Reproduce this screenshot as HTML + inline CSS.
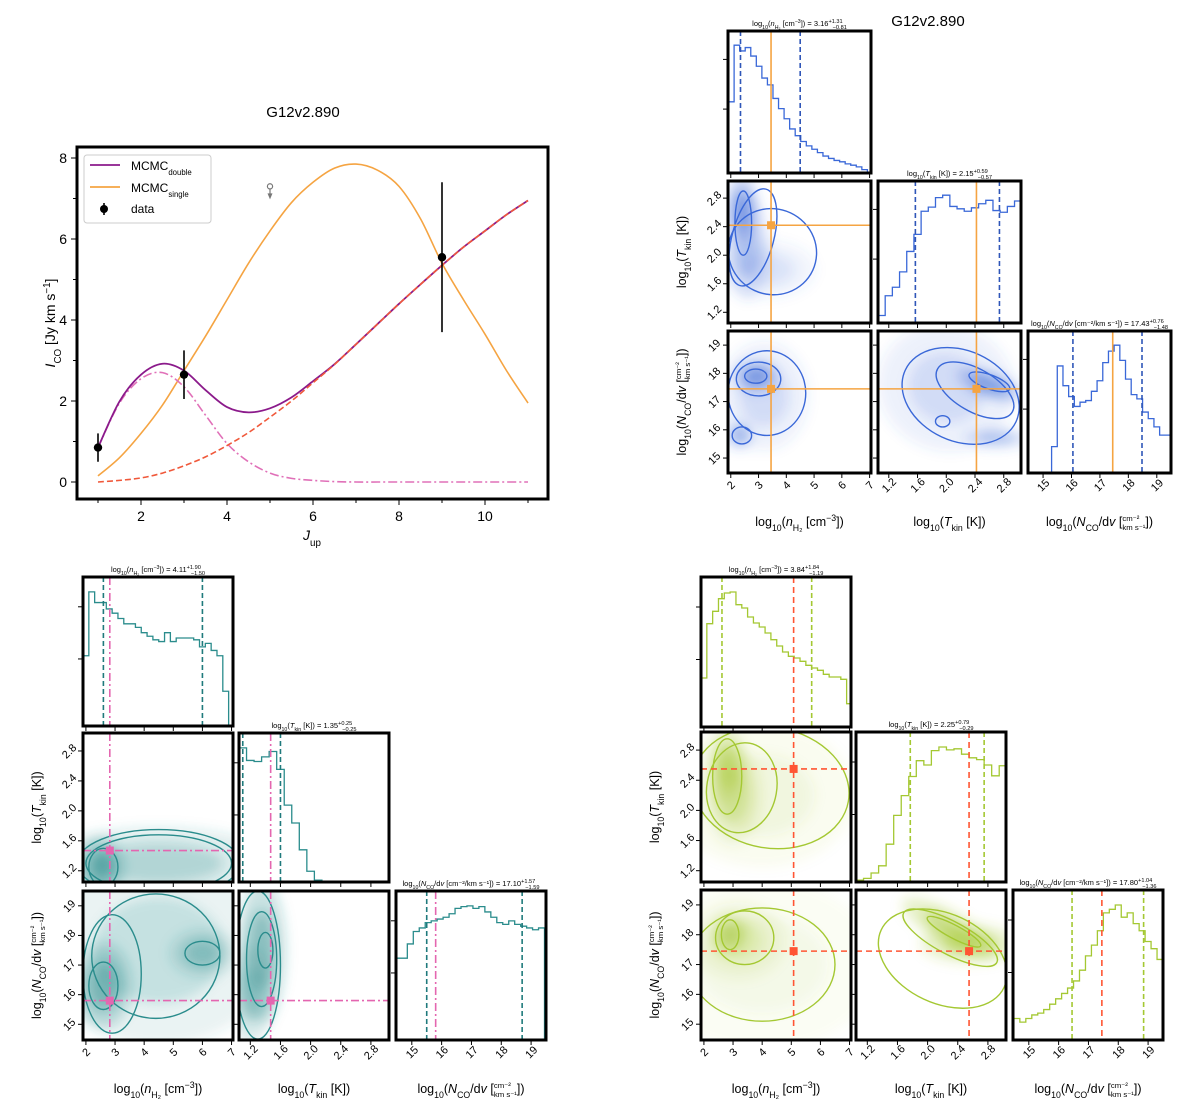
<!DOCTYPE html>
<html><head><meta charset="utf-8"><title>G12v2.890 CO SLED and MCMC corner plots</title>
<style>
html,body{margin:0;padding:0;background:#fff;}
svg{display:block;font-family:"Liberation Sans","DejaVu Sans",sans-serif;}
</style></head>
<body>
<svg id="fig" width="1200" height="1115" viewBox="0 0 1200 1115" xmlns="http://www.w3.org/2000/svg">
<defs>
<filter id="blur6" x="-50%" y="-50%" width="200%" height="200%"><feGaussianBlur stdDeviation="6"/></filter>
</defs>
</svg>
<script>
// ---------------- SLED data ----------------
const sledJ = [1,1.5,2,2.5,3,3.5,4,4.5,5,5.5,6,6.5,7,7.5,8,8.5,9,9.5,10,10.5,11];
const sledCold = [0.85,1.95,2.55,2.7,2.35,1.65,0.95,0.5,0.22,0.09,0.04,0.01,0,0,0,0,0,0,0,0,0];
const sledHot = [0,0.04,0.1,0.22,0.4,0.62,0.9,1.22,1.6,2.0,2.45,2.9,3.4,3.9,4.4,4.88,5.35,5.8,6.2,6.6,6.95];
const sledSingle = [0.15,0.6,1.2,1.9,2.75,3.6,4.5,5.4,6.2,6.9,7.4,7.75,7.85,7.7,7.3,6.5,5.4,4.5,3.65,2.75,1.95];
const dataJ = [1,3,9];
const dataI = [0.85,2.65,5.55];
const dataErr = [0.35,0.6,1.85];
const limitJ = [5];
const limitI = [7.3];
const sledXTicks = [2,4,6,8,10];
const sledYTicks = [0,2,4,6,8];

// ---------------- Corner data: top-right (single, blue) ----------------
const trHistN = [210,377,360,370,345,315,280,260,220,190,160,130,110,93,80,70,60,50,43,37,33,27,23,18,10];
const trHistT = [22,80,105,150,210,260,328,340,368,375,342,335,328,338,350,360,330,325,342,358,280];
const trHistC = [80,325,265,232,202,215,220,248,280,335,370,388,342,285,238,225,185,165,140,115,115];
const trQuant = [[2.35,4.5],[1.57,2.74],[16.05,18.48]];
const trBest = [3.45,2.42,17.45];
// blobs: [cx, cy, sx, sy, weight, rot]
const trBlobsNT = [[2.4,2.65,0.35,0.3,0.9,0],[2.6,2.1,0.5,0.45,0.5,0],[3.3,1.8,1.1,0.25,0.25,0]];
const trBlobsNC = [[2.9,17.9,0.5,0.35,0.9,0],[2.3,15.8,0.3,0.3,0.7,0],[3.2,17.2,1.0,1.2,0.3,0]];
const trBlobsTC = [[2.6,17.6,0.3,0.3,0.9,20],[2.7,15.7,0.3,0.2,0.6,0],[2.0,17.5,0.6,1.4,0.3,20]];
// contours: [cx, cy, rx, ry, rot]
const trContNT = [[2.45,2.45,0.3,0.45,0],[2.8,2.25,0.75,0.7,15],[3.5,2.05,1.6,0.6,25]];
const trContNC = [[2.9,17.9,0.4,0.25,0],[3.0,17.8,0.8,0.6,0],[3.3,17.3,1.4,1.5,0],[2.4,15.8,0.35,0.3,0]];
const trContTC = [[2.6,17.7,0.3,0.25,20],[2.4,17.4,0.6,0.75,30],[2.2,17.2,0.85,1.6,25],[1.95,16.3,0.1,0.2,0]];

// ---------------- Corner data: bottom-left (cold, teal) ----------------
const blHistN = [198,378,348,348,330,318,303,288,288,278,263,253,243,238,263,238,248,248,248,243,223,233,213,198,98];
const blHistT = [375,340,337,350,365,315,215,165,90,30,5];
const blHistC = [230,230,270,305,315,330,335,340,345,355,370,375,377,370,375,360,345,330,325,335,325,320,315,310,315];
const blQuant = [[2.6,6.0],[1.1,1.6],[15.5,18.7]];
const blBest = [2.82,1.47,15.8];
const blBlobsNT = [[2.5,1.25,0.5,0.25,1.0,0],[4.5,1.3,2.5,0.3,0.5,0]];
const blBlobsNC = [[2.6,16.3,0.6,0.9,0.9,0],[6.0,17.4,0.7,0.5,0.6,0],[4.5,17.5,2.5,2.0,0.35,0]];
const blBlobsTC = [[1.35,17.5,0.2,1.5,0.8,0],[1.2,16.0,0.2,1.0,0.6,0]];
const blContNT = [[2.6,1.25,0.5,0.25,0],[4.5,1.3,2.5,0.38,0],[4.5,1.3,2.8,0.45,0]];
const blContNC = [[2.6,16.3,0.5,0.8,0],[6.0,17.4,0.6,0.4,0],[2.9,16.7,1.0,2.0,0],[4.4,17.3,2.2,2.1,0]];
const blContTC = [[1.4,17.5,0.1,0.6,0],[1.35,17.2,0.2,1.6,0],[1.3,17.0,0.3,2.5,0]];

// ---------------- Corner data: bottom-right (warm, green) ----------------
const brHistN = [147,310,347,385,402,405,367,357,330,312,300,282,262,243,225,212,207,197,185,177,170,158,150,150,143,70];
const brHistT = [5,10,25,45,105,185,240,293,337,325,365,375,367,370,355,345,340,325,295,323,225];
const brHistC = [60,50,60,70,75,85,100,115,130,145,165,195,235,265,305,355,365,377,343,355,325,305,275,255,225];
const brQuant = [[2.62,5.7],[1.77,2.75],[16.45,18.85]];
const brBest = [5.08,2.55,17.45];
const brBlobsNT = [[2.8,2.6,0.4,0.3,0.9,0],[3.0,2.2,0.6,0.4,0.6,0],[4.0,2.2,2.0,0.6,0.2,0]];
const brBlobsNC = [[2.9,18.0,0.4,0.4,0.9,0],[3.2,17.8,1.0,0.8,0.4,0],[4.0,17.0,2.5,1.8,0.15,0]];
const brBlobsTC = [[2.3,18.2,0.45,0.35,0.9,30],[2.55,17.7,0.4,0.4,0.8,0]];
const brContNT = [[2.8,2.45,0.5,0.5,0],[3.3,2.3,1.2,0.6,10],[4.3,2.3,2.7,0.8,10]];
const brContNC = [[2.9,18.0,0.3,0.5,0],[3.4,17.9,1.0,0.9,0],[4.0,17.0,2.5,1.9,0]];
const brContTC = [[2.35,18.1,0.4,0.22,28],[2.3,17.9,0.7,0.55,28],[2.2,17.2,0.9,1.5,25]];

const nTicks = [2,3,4,5,6,7];
const tTicks = [1.2,1.6,2.0,2.4,2.8];
const cTicks = [15,16,17,18,19];

// ---------------- helpers ----------------
const NS = "http://www.w3.org/2000/svg";
const svg = document.getElementById('fig');
function mk(tag, attrs, parent){
  const e = document.createElementNS(NS, tag);
  for (const k in attrs) e.setAttribute(k, attrs[k]);
  (parent||svg).appendChild(e);
  return e;
}
function lin(d0,d1,r0,r1){ return v => r0 + (v-d0)/(d1-d0)*(r1-r0); }
function crPath(xs, ys){
  let d = 'M'+xs[0].toFixed(2)+','+ys[0].toFixed(2);
  for (let i=0;i<xs.length-1;i++){
    const x0=xs[Math.max(i-1,0)], y0=ys[Math.max(i-1,0)];
    const x1=xs[i], y1=ys[i], x2=xs[i+1], y2=ys[i+1];
    const x3=xs[Math.min(i+2,xs.length-1)], y3=ys[Math.min(i+2,xs.length-1)];
    const c1x=x1+(x2-x0)/6, c1y=y1+(y2-y0)/6, c2x=x2-(x3-x1)/6, c2y=y2-(y3-y1)/6;
    d += ' C'+c1x.toFixed(2)+','+c1y.toFixed(2)+' '+c2x.toFixed(2)+','+c2y.toFixed(2)+' '+x2.toFixed(2)+','+y2.toFixed(2);
  }
  return d;
}
const SUB = t => '<tspan baseline-shift="sub" font-size="70%">'+t+'</tspan>';
const SUP = t => '<tspan baseline-shift="super" font-size="70%">'+t+'</tspan>';
const IT = t => '<tspan font-style="italic">'+t+'</tspan>';

// ---------------- SLED plot ----------------
(function(){
  const L=77,R=548,T=147,B=499;
  const X = lin(1,11,98,528);
  const Y = lin(0,8,482,158);
  const g = mk('g',{});
  
  
  const title = mk('text',{x:303,y:117,'text-anchor':'middle','font-size':15,fill:'#000'},g);
  title.textContent='G12v2.890';
  
  

  const cold = sledCold, hot = sledHot;
  const dbl = sledJ.map((j,i)=>cold[i]+hot[i]);
  const xs = sledJ.map(X);
  const pSingle = mk('path',{d:crPath(xs,sledSingle.map(Y)),fill:'none',stroke:'#f5a442','stroke-width':1.6},g);
  
  
  const pCold = mk('path',{d:crPath(xs,cold.map(Y)),fill:'none',stroke:'#e070b8','stroke-width':1.6,'stroke-dasharray':'9,3,2,3'},g);
  
  
  const pDbl = mk('path',{d:crPath(xs,dbl.map(Y)),fill:'none',stroke:'#8b1a8b','stroke-width':1.8},g);
  
  
  const pHot = mk('path',{d:crPath(xs,hot.map(Y)),fill:'none',stroke:'#f0583a','stroke-width':1.6,'stroke-dasharray':'6,3'},g);
  
  

  dataJ.forEach((j,i)=>{
    const eb = mk('line',{x1:X(j),x2:X(j),y1:Y(dataI[i]-dataErr[i]),y2:Y(dataI[i]+dataErr[i]),stroke:'#000','stroke-width':1.6},g);
    
    
    const c = mk('circle',{cx:X(j),cy:Y(dataI[i]),r:4.2,fill:'#000'},g);
    
    
  });
  limitJ.forEach((j,i)=>{
    const x=X(j), y=Y(limitI[i]);
    const lg = mk('g',{},g);
    
    
    mk('circle',{cx:x,cy:y,r:2.6,fill:'none',stroke:'#777','stroke-width':1.2},lg);
    mk('line',{x1:x,x2:x,y1:y+2,y2:y+10,stroke:'#777','stroke-width':1.2},lg);
    mk('path',{d:`M${x-2.5},${y+7} L${x+2.5},${y+7} L${x},${y+13} Z`,fill:'#777'},lg);
  });

  const fr = mk('rect',{x:L,y:T,width:R-L,height:B-T,fill:'none',stroke:'#000','stroke-width':3},g);
  
  
  for (let j=1;j<=11;j++){
    const major = sledXTicks.includes(j);
    mk('line',{x1:X(j),x2:X(j),y1:B,y2:B+(major?6:4),stroke:'#000','stroke-width':1},g);
  }
  sledXTicks.forEach(v=>{
    const t = mk('text',{x:X(v),y:B+22,'text-anchor':'middle','font-size':14},g);
    t.textContent = v;
    
    
  });
  for (let v=0; v<=8; v++){
    const major = sledYTicks.includes(v);
    mk('line',{x1:L,x2:L-(major?6:4),y1:Y(v),y2:Y(v),stroke:'#000','stroke-width':1},g);
  }
  sledYTicks.forEach(v=>{
    const t = mk('text',{x:L-10,y:Y(v)+5,'text-anchor':'end','font-size':14},g);
    t.textContent = v;
    
    
  });
  const xl = mk('text',{x:312,y:540,'text-anchor':'middle','font-size':14},g);
  xl.innerHTML = IT('J')+SUB('up');
  
  
  const yl = mk('text',{x:0,y:0,'text-anchor':'middle','font-size':14,transform:'translate(55,323) rotate(-90)'},g);
  yl.innerHTML = IT('I')+SUB('CO')+' [Jy km s'+SUP('−1')+']';
  
  

  const lg = mk('g',{},g);
  
  
  mk('rect',{x:84,y:155,width:127,height:68,rx:3,fill:'#fff',stroke:'#ccc','stroke-width':1},lg);
  const items = [['#8b1a8b','MCMC','double'],['#f5a442','MCMC','single']];
  items.forEach((it,i)=>{
    const yy = 165+i*22;
    const e = mk('g',{},lg);
    
    
    mk('line',{x1:90,x2:120,y1:yy,y2:yy,stroke:it[0],'stroke-width':1.8},e);
    const t = mk('text',{x:131,y:yy+5,'font-size':12},e);
    t.innerHTML = it[1]+'<tspan baseline-shift="sub" font-size="65%">'+it[2]+'</tspan>';
  });
  const e3 = mk('g',{},lg);
  
  
  mk('line',{x1:104,x2:104,y1:203,y2:215,stroke:'#000','stroke-width':1.6},e3);
  mk('circle',{cx:104,cy:209,r:4,fill:'#000'},e3);
  const t3 = mk('text',{x:131,y:213,'font-size':12},e3);
  t3.textContent='data';
})();

// ---------------- corner plot builder ----------------
const NLAB = 'log'+SUB('10')+'('+IT('n')+SUB('H₂')+' [cm'+SUP('−3')+'])';
const TLAB = 'log'+SUB('10')+'('+IT('T')+SUB('kin')+' [K])';
function cLab(parent, x, y, fs, transform){
  const t = mk('text',{x:x,y:y,'text-anchor':'middle','font-size':fs,transform:transform||''},parent);
  t.innerHTML = 'log'+SUB('10')+'('+IT('N')+SUB('CO')+'/d'+IT('v')+' ['+
   '<tspan font-size="62%" dy="-5">cm⁻²</tspan><tspan font-size="62%" dx="-17" dy="9">km s⁻¹</tspan><tspan dy="-4">])</tspan>';
  return t;
}

function corner(C){
  const g = mk('g',{});
  
  
  const dN=[1.9,7.05], dT=[1.05,3.04], dC=[14.47,19.5];
  const doms=[dN,dT,dC], ticks=[nTicks,tTicks,cTicks];
  const xsc = i => lin(doms[i][0],doms[i][1],C.cols[i],C.cols[i]+C.w);
  const ysc = i => lin(doms[i][0],doms[i][1],C.rows[i]+C.h,C.rows[i]);
  const hists=[C.hN,C.hT,C.hC], starts=[C.sN,C.sT,C.sC], widths=[0.2,0.1,0.2];
  const clipId = n => C.id+'clip'+n;

  function clip(n,x,y){
    const cp = mk('clipPath',{id:clipId(n)},g);
    mk('rect',{x:x,y:y,width:C.w,height:C.h},cp);
  }
  function frame(x,y,name){
    const r = mk('rect',{x:x,y:y,width:C.w,height:C.h,fill:'none',stroke:'#000','stroke-width':3},g);
    
    
  }
  function vline(pg,x,y0,y1,col,dash,w){ mk('line',{x1:x,x2:x,y1:y0,y2:y1,stroke:col,'stroke-width':w||1.4,'stroke-dasharray':dash||''},pg); }
  function hline(pg,y,x0,x1,col,dash,w){ mk('line',{x1:x0,x2:x1,y1:y,y2:y,stroke:col,'stroke-width':w||1.4,'stroke-dasharray':dash||''},pg); }

  for (let i=0;i<3;i++){
    const x0=C.cols[i], y0=C.rows[i];
    clip('h'+i,x0,y0);
    const pg = mk('g',{'clip-path':'url(#'+clipId('h'+i)+')'},g);
    
    
    const X = xsc(i);
    const vals = hists[i];
    const vmax = Math.max(...vals)/0.9;
    const Y = lin(0,vmax,y0+C.h,y0);
    let d='M'+X(starts[i])+','+(y0+C.h+2);
    vals.forEach((v,k)=>{
      const a=X(starts[i]+k*widths[i]), b=X(starts[i]+(k+1)*widths[i]);
      d+=' L'+a.toFixed(2)+','+Y(v).toFixed(2)+' L'+b.toFixed(2)+','+Y(v).toFixed(2);
    });
    d+=' L'+X(starts[i]+vals.length*widths[i]).toFixed(2)+','+(y0+C.h+2);
    const hp = mk('path',{d:d,fill:'none',stroke:C.col,'stroke-width':1.3},pg);
    
    
    vline(pg,X(C.q[i][0]),y0,y0+C.h,C.qcol,'5,3',1.6);
    vline(pg,X(C.q[i][1]),y0,y0+C.h,C.qcol,'5,3',1.6);
    vline(pg,X(C.best[i]),y0,y0+C.h,C.bcol,C.bdash,1.6);
    ticks[i].forEach(v=>mk('line',{x1:X(v),x2:X(v),y1:y0+C.h,y2:y0+C.h+5,stroke:'#000','stroke-width':1},g));
    [0.2,0.55].forEach(f=>mk('line',{x1:x0,x2:x0-5,y1:y0+C.h*f,y2:y0+C.h*f,stroke:'#000','stroke-width':1},g));
    frame(x0,y0,'histogram-frame');
    const tt = mk('text',{x:x0+C.w/2,y:y0-5,'text-anchor':'middle','font-size':7.5},g);
    tt.innerHTML = C.titles[i];
    
    
  }
  const pairs=[[0,1,C.bNT,C.cNT],[0,2,C.bNC,C.cNC],[1,2,C.bTC,C.cTC]];
  pairs.forEach((p,k)=>{
    const xi=p[0], yi=p[1];
    const x0=C.cols[xi], y0=C.rows[yi];
    clip('d'+k,x0,y0);
    const pg = mk('g',{'clip-path':'url(#'+clipId('d'+k)+')'},g);
    
    
    const X=xsc(xi), Y=ysc(yi);
    const kx = C.w/(doms[xi][1]-doms[xi][0]), ky = C.h/(doms[yi][1]-doms[yi][0]);
    const bg = mk('g',{filter:'url(#blur6)'},pg);
    p[2].forEach(b=>{
      const e = mk('ellipse',{cx:X(b[0]),cy:Y(b[1]),rx:b[2]*kx*1.6,ry:b[3]*ky*1.6,fill:C.col,'fill-opacity':b[4]*0.3,transform:`rotate(${b[5]} ${X(b[0])} ${Y(b[1])})`},bg);
      
      
      const e2 = mk('ellipse',{cx:X(b[0]),cy:Y(b[1]),rx:b[2]*kx*0.9,ry:b[3]*ky*0.9,fill:C.col,'fill-opacity':b[4]*0.5,transform:`rotate(${b[5]} ${X(b[0])} ${Y(b[1])})`},bg);
      
      
    });
    p[3].forEach(c=>{
      const e = mk('ellipse',{cx:X(c[0]),cy:Y(c[1]),rx:c[2]*kx,ry:c[3]*ky,fill:'none',stroke:C.col,'stroke-width':1.4,transform:`rotate(${c[4]} ${X(c[0])} ${Y(c[1])})`},pg);
      
      
    });
    const bx=X(C.best[xi]), by=Y(C.best[yi]);
    vline(pg,bx,y0,y0+C.h,C.bcol,C.bdash,1.6);
    hline(pg,by,x0,x0+C.w,C.bcol,C.bdash,1.6);
    const m = mk('rect',{x:bx-4,y:by-4,width:8,height:8,fill:C.bcol},pg);
    
    
    ticks[xi].forEach(v=>mk('line',{x1:X(v),x2:X(v),y1:y0+C.h,y2:y0+C.h+5,stroke:'#000','stroke-width':1},g));
    ticks[yi].forEach(v=>mk('line',{x1:x0,x2:x0-5,y1:Y(v),y2:Y(v),stroke:'#000','stroke-width':1},g));
    frame(x0,y0,'density-frame');
  });
  for (let i=0;i<3;i++){
    const X=xsc(i), yb=C.rows[2]+C.h;
    ticks[i].forEach(v=>{
      const tx=X(v), ty=yb+16;
      const t = mk('text',{x:tx,y:ty,'text-anchor':'middle','font-size':11,transform:`rotate(-45 ${tx} ${ty-4})`},g);
      t.textContent = (i===1? v.toFixed(1): v);
      
      
    });
  }
  [1,2].forEach(yi=>{
    const Y=ysc(yi), xl=C.cols[0]-14;
    ticks[yi].forEach(v=>{
      const t = mk('text',{x:xl,y:Y(v)+4,'text-anchor':'middle','font-size':11,transform:`rotate(-45 ${xl} ${Y(v)})`},g);
      t.textContent = (yi===1? v.toFixed(1): v);
      
      
    });
  });
  const yb = C.rows[2]+C.h+53;
  const a1 = mk('text',{x:C.cols[0]+C.w/2,y:yb,'text-anchor':'middle','font-size':12.5},g);
  a1.innerHTML = NLAB;
  
  
  const a2 = mk('text',{x:C.cols[1]+C.w/2,y:yb,'text-anchor':'middle','font-size':12.5},g);
  a2.innerHTML = TLAB;
  
  
  const a3 = cLab(g,C.cols[2]+C.w/2,yb,12.5);
  
  
  const lx = C.cols[0]-42;
  const a4 = mk('text',{x:0,y:0,'text-anchor':'middle','font-size':12.5,transform:`translate(${lx},${C.rows[1]+C.h/2}) rotate(-90)`},g);
  a4.innerHTML = TLAB;
  
  
  const a5 = cLab(g,0,0,12.5,`translate(${lx},${C.rows[2]+C.h/2}) rotate(-90)`);
  
  
}

function ttl(kind,val,up,lo){
  const pm = '<tspan font-size="75%" dy="-3">'+up+'</tspan><tspan font-size="75%" dx="-10" dy="6">'+lo+'</tspan>';
  if (kind===0) return 'log'+SUB('10')+'('+IT('n')+SUB('H₂')+' [cm'+SUP('−3')+']) = '+val+pm;
  if (kind===1) return 'log'+SUB('10')+'('+IT('T')+SUB('kin')+' [K]) = '+val+pm;
  return 'log'+SUB('10')+'('+IT('N')+SUB('CO')+'/d'+IT('v')+' [cm⁻²/km s⁻¹]) = '+val+pm;
}

corner({name:'corner-single',id:'tr',cols:[728,878,1028],rows:[31,181,331],w:143,h:142,col:'#3a68d8',qcol:'#2f56b8',bcol:'#f5a442',bdash:'',
  hN:trHistN,hT:trHistT,hC:trHistC,sN:1.92,sT:1.05,sC:15.3,q:trQuant,best:trBest,
  bNT:trBlobsNT,bNC:trBlobsNC,bTC:trBlobsTC,cNT:trContNT,cNC:trContNC,cTC:trContTC,
  titles:[ttl(0,'3.16','+1.31','−0.81'),ttl(1,'2.15','+0.59','−0.57'),ttl(2,'17.43','+0.76','−1.48')]});
corner({name:'corner-cold',id:'bl',cols:[83,239,396],rows:[577,733,891],w:150,h:149,col:'#2a8c8c',qcol:'#1f7a7c',bcol:'#e466b0',bdash:'8,3,2,3',
  hN:blHistN,hT:blHistT,hC:blHistC,sN:1.9,sT:1.05,sC:14.45,q:blQuant,best:blBest,
  bNT:blBlobsNT,bNC:blBlobsNC,bTC:blBlobsTC,cNT:blContNT,cNC:blContNC,cTC:blContTC,
  titles:[ttl(0,'4.11','+1.90','−1.50'),ttl(1,'1.35','+0.25','−0.25'),ttl(2,'17.10','+1.57','−1.59')]});
corner({name:'corner-warm',id:'br',cols:[701,856,1013],rows:[577,732,890],w:150,h:150,col:'#a4c832',qcol:'#a4c832',bcol:'#ff5533',bdash:'6,4',
  hN:brHistN,hT:brHistT,hC:brHistC,sN:1.9,sT:1.05,sC:14.5,q:brQuant,best:brBest,
  bNT:brBlobsNT,bNC:brBlobsNC,bTC:brBlobsTC,cNT:brContNT,cNC:brContNC,cTC:brContTC,
  titles:[ttl(0,'3.84','+1.84','−1.19'),ttl(1,'2.25','+0.79','−0.29'),ttl(2,'17.80','+1.04','−1.36')]});

const trTitle = mk('text',{x:928,y:26,'text-anchor':'middle','font-size':15});
trTitle.textContent='G12v2.890';


</script>
</body></html>
